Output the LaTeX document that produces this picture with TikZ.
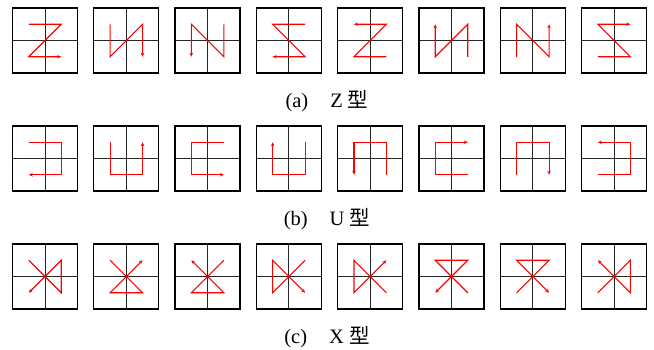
\documentclass[tikz,border=0pt]{standalone}
\usepackage{fontspec}
\setmainfont{Liberation Serif}
\newfontfamily\cjk{Noto Sans CJK SC}
\usetikzlibrary{arrows.meta}

\begin{document}
\begin{tikzpicture}[
  x=1pt, y=-1pt,
  cell/.style={draw=black, line width=1.3pt},
  mid/.style={draw=black!85, line width=1pt},
  route/.style={draw=red, line width=1.1pt, line join=miter,
                -{Stealth[length=4pt,width=3.5pt]}},
  sublabel/.style={font=\fontsize{20.5}{24}\selectfont}
]
\useasboundingbox (0,0) rectangle (654,349);
% column / row / visiting order of the four quadrants
\foreach \i/\j/\a/\b/\c/\d in {
    1/1/tl/tr/bl/br, 2/1/tl/bl/tr/br, 3/1/tr/br/tl/bl, 4/1/tr/tl/br/bl,
    5/1/br/bl/tr/tl, 6/1/br/tr/bl/tl, 7/1/bl/tl/br/tr, 8/1/bl/br/tl/tr,
    1/2/tl/tr/br/bl, 2/2/tl/bl/br/tr, 3/2/tr/tl/bl/br, 4/2/tr/br/bl/tl,
    5/2/br/tr/tl/bl, 6/2/br/bl/tl/tr, 7/2/bl/tl/tr/br, 8/2/bl/br/tr/tl,
    1/3/tl/br/tr/bl, 2/3/tl/br/bl/tr, 3/3/tr/bl/br/tl, 4/3/tr/bl/tl/br,
    5/3/br/tl/bl/tr, 6/3/br/tl/tr/bl, 7/3/bl/tr/tl/br, 8/3/bl/tr/br/tl}
{
  \begin{scope}[shift={({45+81.3*(\i-1)},{40.5+118*(\j-1)})}]
    \coordinate (tl) at (-16.25,-16.25);
    \coordinate (tr) at (16.25,-16.25);
    \coordinate (bl) at (-16.25,16.25);
    \coordinate (br) at (16.25,16.25);
    \draw[mid] (0,-32.5) -- (0,32.5) (-32.5,0) -- (32.5,0);
    \draw[cell] (-32.5,-32.5) rectangle (32.5,32.5);
    \draw[route] (\a) -- (\b) -- (\c) -- (\d);
  \end{scope}
}
\node[sublabel] (capa) at (327,101) {(a)\hspace{22pt}Z {\cjk 型}};
\node[sublabel] (capb) at (327,219) {(b)\hspace{22pt}U {\cjk 型}};
\node[sublabel] (capc) at (327,337) {(c)\hspace{22pt}X {\cjk 型}};
\end{tikzpicture}
\end{document}
